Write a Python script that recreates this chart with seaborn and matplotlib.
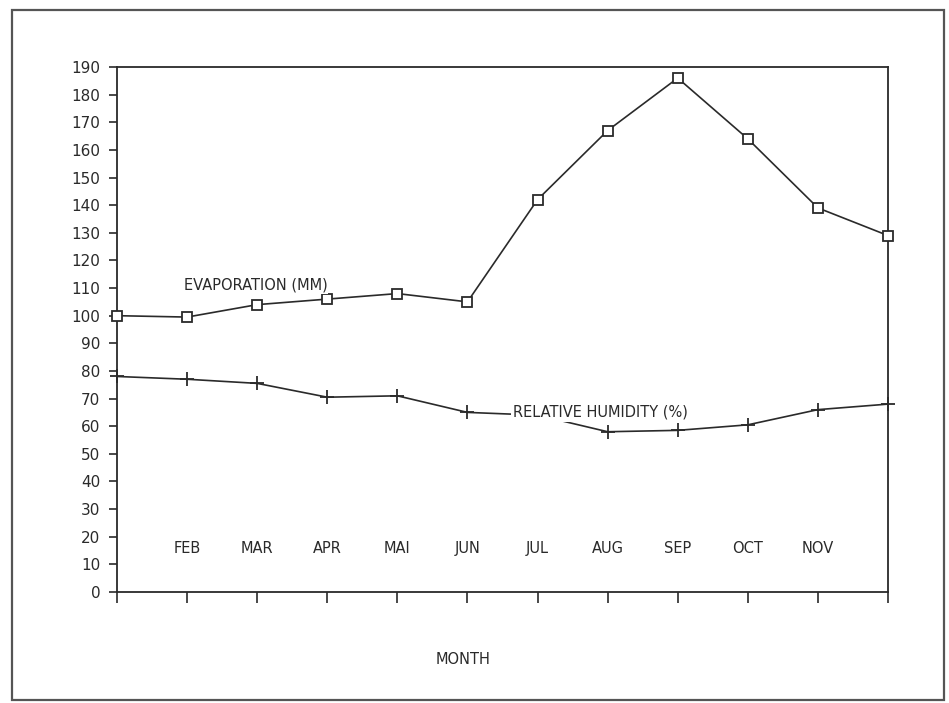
import matplotlib
matplotlib.use("Agg")
import matplotlib.pyplot as plt
import matplotlib.patches as mpatches
import seaborn as sns
import pandas as pd
import numpy as np

months = ["JAN", "FEB", "MAR", "APR", "MAI", "JUN", "JUL", "AUG", "SEP", "OCT", "NOV", "DEC"]
evaporation = [100, 99.5, 104, 106, 108, 105, 142, 167, 186, 164, 139, 129]
humidity = [78, 77, 75.5, 70.5, 71, 65, 64, 58, 58.5, 60.5, 66, 68]
yticks = list(range(0, 200, 10))
shown_month_labels = ["FEB", "MAR", "APR", "MAI", "JUN", "JUL", "AUG", "SEP", "OCT", "NOV"]

sns.set_style("white")
plt.rcParams["font.family"] = ["DejaVu Sans"]
ink = "#2a2a2a"

df = pd.DataFrame({"idx": np.arange(len(months)), "month": months,
                   "evap": evaporation, "hum": humidity})

fig = plt.figure(figsize=(9.49, 7.03), dpi=100)
ax = fig.add_axes([117/949, 1-592/703, (888-117)/949, (592-67)/703])

sns.lineplot(data=df, x="idx", y="evap", ax=ax, color=ink, lw=1.2,
             marker="s", markersize=7, markerfacecolor="white",
             markeredgecolor=ink, markeredgewidth=1.3, clip_on=False, zorder=4)
sns.lineplot(data=df, x="idx", y="hum", ax=ax, color=ink, lw=1.2,
             marker="+", markersize=10, markeredgecolor=ink, markeredgewidth=1.3,
             clip_on=False, zorder=4)

ax.set_xlim(0, len(months) - 1)
ax.set_ylim(0, 190)
ax.set_yticks(yticks)
ax.set_yticklabels([str(v) for v in yticks], fontsize=11, color=ink)
ax.set_xticks(df["idx"])
ax.set_xticklabels([""] * len(months))
ax.tick_params(axis="x", direction="out", length=8, width=1.2, colors=ink, bottom=True)
ax.tick_params(axis="y", direction="out", length=6, width=1.2, colors=ink, left=True, pad=6)
for s in ax.spines.values():
    s.set_color(ink)
    s.set_linewidth(1.3)
ax.set_xlabel("")
ax.set_ylabel("")

for lab in shown_month_labels:
    i = months.index(lab)
    ax.text(i, 13, lab, ha="center", va="bottom", fontsize=10.5, color=ink)

ax.text(0.95, 111, "EVAPORATION (MM)", fontsize=10.5, color=ink, ha="left", va="center",
        bbox=dict(facecolor="white", edgecolor="none", pad=0.5), zorder=5)
ax.text(5.65, 65, "RELATIVE HUMIDITY (%)", fontsize=10.5, color=ink, ha="left", va="center",
        bbox=dict(facecolor="white", edgecolor="none", pad=1.5), zorder=5)

fig.text(463/949, 1-660/703, "MONTH", ha="center", va="center", fontsize=10.5, color=ink)

frame = mpatches.Rectangle((12/949, 1-700/703), (944-12)/949, (700-10)/703,
                           transform=fig.transFigure, fill=False, edgecolor="#555555", lw=1.6)
fig.patches.append(frame)

fig.savefig("out.png", dpi=100)
